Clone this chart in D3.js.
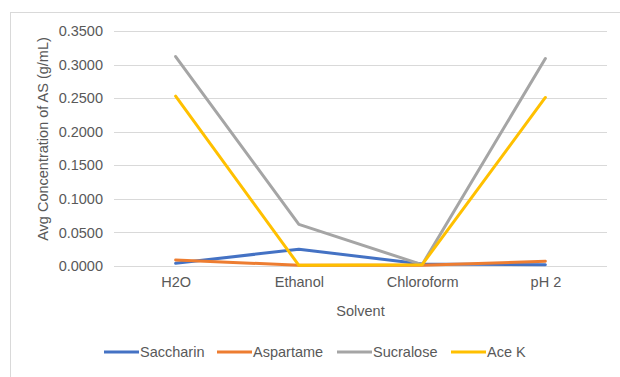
<!DOCTYPE html>
<html>
<head>
<meta charset="utf-8">
<script src="https://cdn.jsdelivr.net/npm/d3@7"></script>
<style>
  html, body { margin: 0; padding: 0; background: #fff; }
  svg { display: block; font-family: "Liberation Sans", Arial, sans-serif; }
</style>
</head>
<body>
<svg id="chart" width="620" height="377"></svg>
<script>
// Solvents on the x axis
const solvents = ["H2O", "Ethanol", "Chloroform", "pH 2"];

// Average concentration of artificial sweetener (g/mL) per solvent
const saccharin = [0.004, 0.025, 0.003, 0.002];
const aspartame = [0.009, 0.001, 0.001, 0.007];
const sucralose = [0.312, 0.062, 0.002, 0.309];
const aceK      = [0.253, 0.001, 0.002, 0.251];

const seriesNames = ["Saccharin", "Aspartame", "Sucralose", "Ace K"];
const seriesValues = [saccharin, aspartame, sucralose, aceK];
const seriesColors = ["#4472C4", "#ED7D31", "#A5A5A5", "#FFC000"];

const yTicks = [0, 0.05, 0.1, 0.15, 0.2, 0.25, 0.3, 0.35];

const svg = d3.select("#chart");
const W = 620, H = 377;
const plot = { left: 114, right: 607, top: 31, bottom: 266 };

// Chart area border
svg.append("rect")
  .attr("x", 10.5).attr("y", 12.5)
  .attr("width", W).attr("height", H)
  .attr("fill", "none").attr("stroke", "#d9d9d9").attr("stroke-width", 1);

const x = d3.scalePoint().domain(solvents)
  .range([plot.left, plot.right]).padding(0.5);
const y = d3.scaleLinear().domain([0, 0.35])
  .range([plot.bottom, plot.top]);

// Horizontal gridlines
svg.append("g").selectAll("line").data(yTicks).join("line")
  .attr("x1", plot.left).attr("x2", plot.right)
  .attr("y1", d => Math.round(y(d)) + 0.5).attr("y2", d => Math.round(y(d)) + 0.5)
  .attr("stroke", "#d9d9d9").attr("stroke-width", 1);

// Y axis tick labels
const yAxis = d3.axisLeft(y).tickValues(yTicks)
  .tickFormat(d3.format(".4f")).tickSize(0).tickPadding(0);
const yg = svg.append("g").attr("transform", `translate(${plot.left - 11},0)`).call(yAxis);
yg.select(".domain").remove();
yg.selectAll("text").attr("fill", "#595959").style("font-size", "14.5px")
  .style("font-family", "'Liberation Sans', Arial, sans-serif");

// X axis category labels
const xAxis = d3.axisBottom(x).tickSize(0).tickPadding(0);
const xg = svg.append("g").attr("transform", `translate(0,${plot.bottom + 11})`).call(xAxis);
xg.select(".domain").remove();
xg.selectAll("text").attr("fill", "#595959").style("font-size", "14.5px")
  .style("font-family", "'Liberation Sans', Arial, sans-serif");

// Axis titles
svg.append("text")
  .attr("x", (plot.left + plot.right) / 2).attr("y", 316)
  .attr("text-anchor", "middle").attr("fill", "#595959")
  .style("font-size", "14.5px").text("Solvent");

svg.append("text")
  .attr("transform", `translate(48,139) rotate(-90)`)
  .attr("text-anchor", "middle").attr("fill", "#595959")
  .style("font-size", "14.5px").text("Avg Concentration of AS (g/mL)");

// Series lines
const line = d3.line()
  .x((d, i) => x(solvents[i]))
  .y(d => y(d));

svg.append("g").selectAll("path").data(seriesValues).join("path")
  .attr("d", d => line(d))
  .attr("fill", "none")
  .attr("stroke", (d, i) => seriesColors[i])
  .attr("stroke-width", 3)
  .attr("stroke-linejoin", "round")
  .attr("stroke-linecap", "round");

// Legend
const legendX = [104, 217, 337, 451];
const legendY = 357;
const lg = svg.append("g").selectAll("g").data(seriesNames).join("g")
  .attr("transform", (d, i) => `translate(${legendX[i]},${legendY})`);
lg.append("line")
  .attr("x1", 0).attr("x2", 35).attr("y1", -5).attr("y2", -5)
  .attr("stroke", (d, i) => seriesColors[i]).attr("stroke-width", 3);
lg.append("text")
  .attr("x", 36).attr("y", 0)
  .attr("fill", "#595959").style("font-size", "14.5px")
  .text(d => d);
</script>
</body>
</html>
